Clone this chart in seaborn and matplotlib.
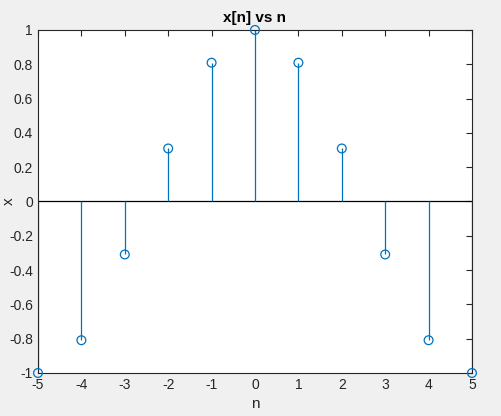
import matplotlib
matplotlib.use("Agg")
import matplotlib.pyplot as plt
import seaborn as sns
import pandas as pd

n_values = [-5, -4, -3, -2, -1, 0, 1, 2, 3, 4, 5]
x_values = [-1.0, -0.809, -0.309, 0.309, 0.809, 1.0, 0.809, 0.309, -0.309, -0.809, -1.0]
x_ticks = [-5, -4, -3, -2, -1, 0, 1, 2, 3, 4, 5]
y_ticks = [-1, -0.8, -0.6, -0.4, -0.2, 0, 0.2, 0.4, 0.6, 0.8, 1]

df = pd.DataFrame({"n": n_values, "x": x_values})

sns.set_style("white")
plt.rcParams['font.family'] = ['Arial', 'Liberation Sans', 'DejaVu Sans']

fig = plt.figure(figsize=(5.01, 4.16), dpi=100, facecolor='#f0f0f0')
ax = fig.add_axes([0.0758, 0.1034, 0.8663, 0.8246])
ax.set_facecolor('white')

stem_color = '#0072BD'
ax.axhline(0, color='black', lw=0.9, zorder=1)
ax.vlines(df["n"], 0, df["x"], color=stem_color, lw=0.9, zorder=2)
sns.scatterplot(data=df, x="n", y="x", ax=ax, marker='o', s=40,
                facecolors='none', edgecolor=stem_color, linewidth=0.9,
                zorder=3, clip_on=False, legend=False)

ax.set_xlim(-5, 5)
ax.set_ylim(-1, 1)
ax.set_xticks(x_ticks)
ax.set_xticklabels([str(t) for t in x_ticks])
ax.set_yticks(y_ticks)
ax.set_yticklabels(['-1', '-0.8', '-0.6', '-0.4', '-0.2', '0', '0.2', '0.4', '0.6', '0.8', '1'])
ax.tick_params(direction='in', length=4, width=0.8, colors='#262626',
               labelsize=10, top=True, right=True, labeltop=False, labelright=False)
for sp in ax.spines.values():
    sp.set_color('#262626')
    sp.set_linewidth(0.8)

ax.set_title('x[n] vs n', fontsize=11, fontweight='bold', color='black', pad=6)
ax.set_xlabel('n', fontsize=11, color='#262626')
ax.set_ylabel('x', fontsize=11, color='#262626')
ax.yaxis.set_label_coords(-0.05, 0.5)

fig.savefig('out.png', dpi=100, facecolor=fig.get_facecolor())
